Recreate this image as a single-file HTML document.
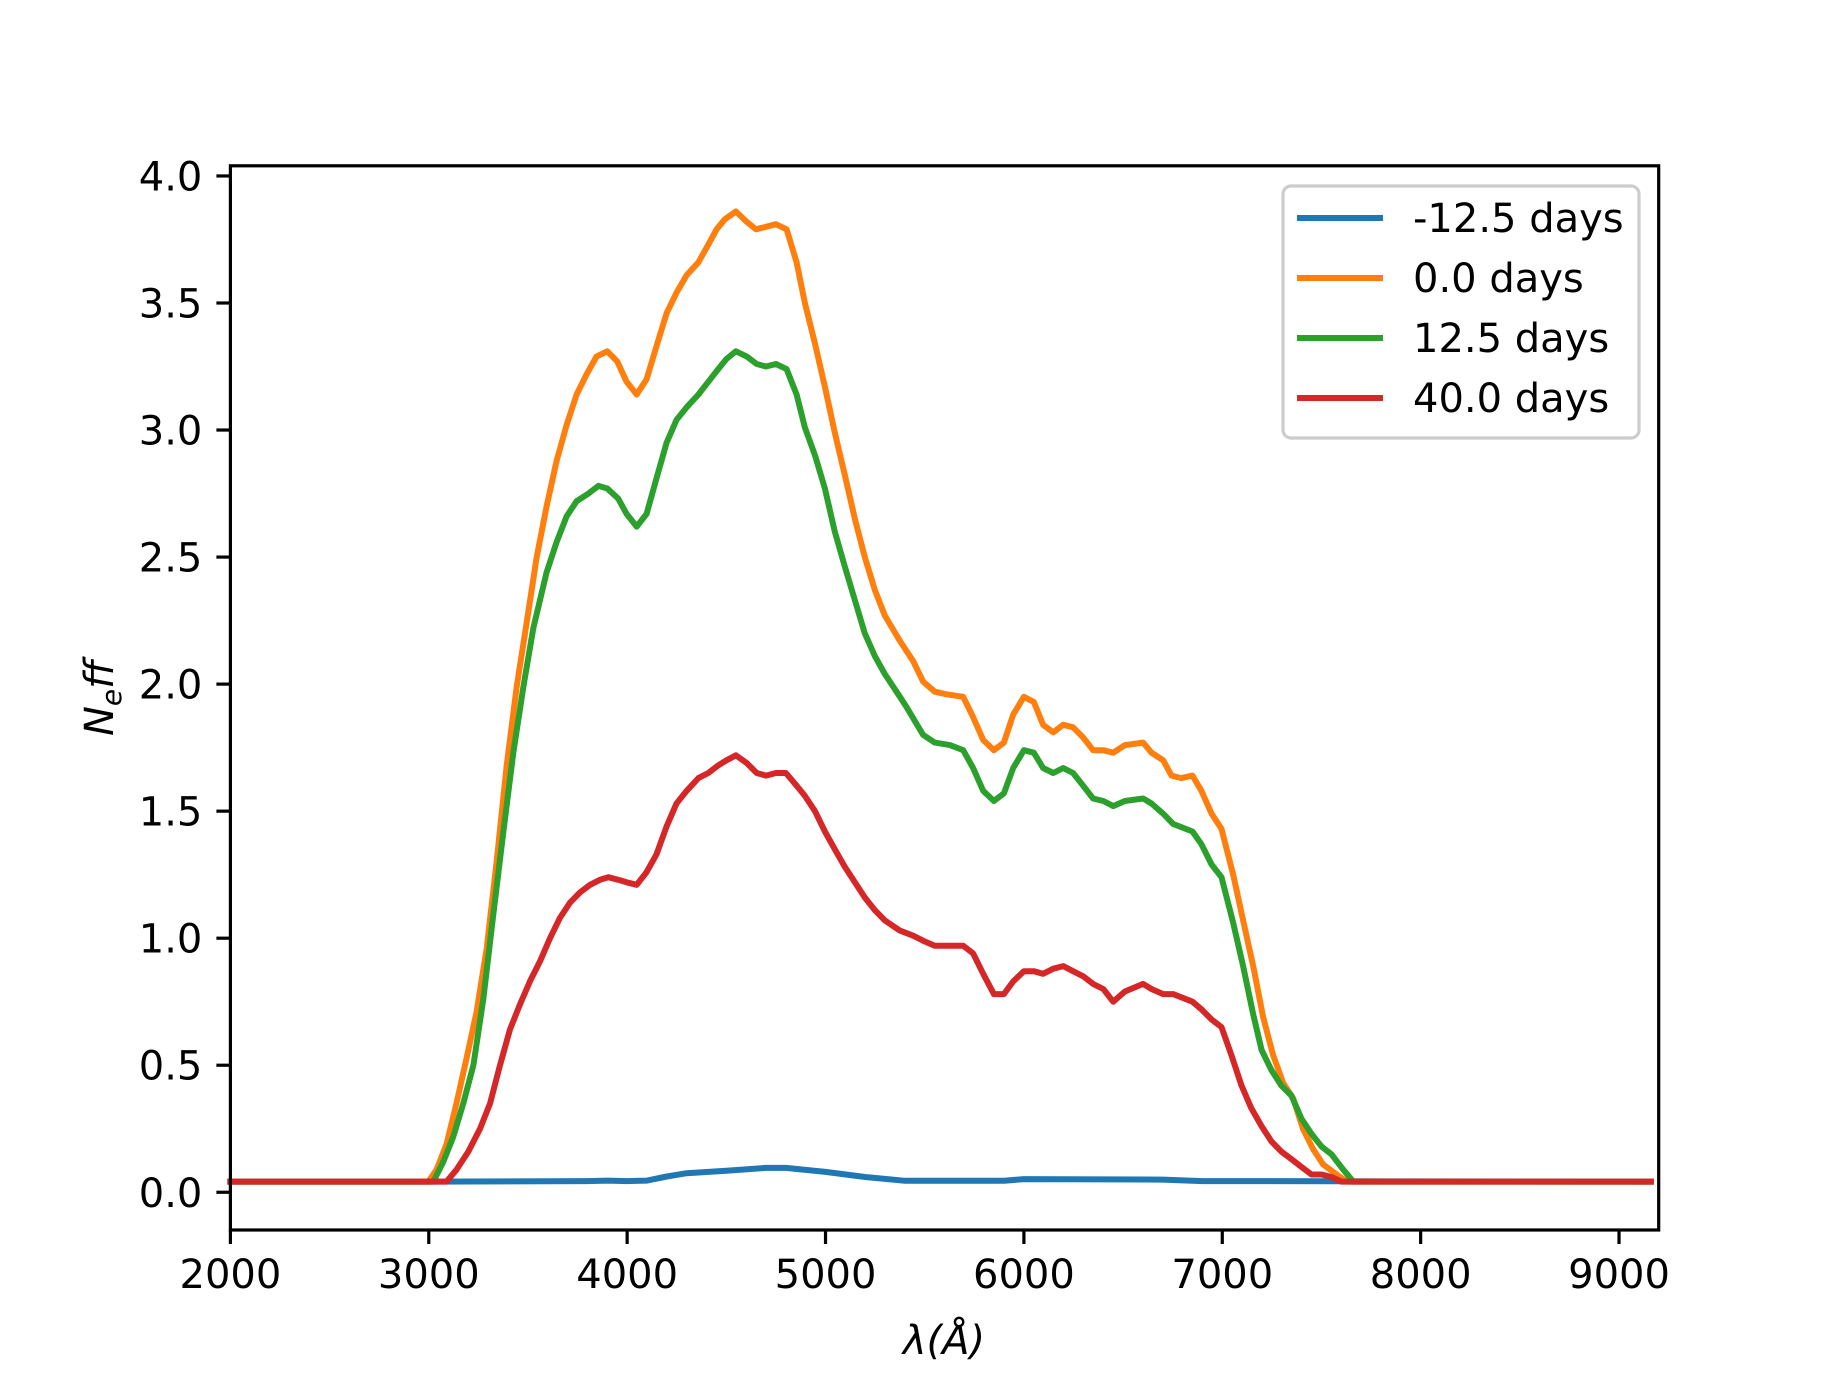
<!DOCTYPE html>
<html><head><meta charset="utf-8"><style>
html,body{margin:0;padding:0;background:#fff;}
svg{display:block;font-family:"DejaVu Sans","Liberation Sans",sans-serif;}
</style></head><body>
<svg id="chart" width="1843" height="1382" viewBox="0 0 1843 1382" xmlns="http://www.w3.org/2000/svg">
<rect x="0" y="0" width="1843" height="1382" fill="#fff"/>
<g id="series"></g>
<g id="axes"></g>
<g id="legend"></g>
</svg>
<script>
const xTicks = [2000,3000,4000,5000,6000,7000,8000,9000];
const yTicks = [0.0,0.5,1.0,1.5,2.0,2.5,3.0,3.5,4.0];
const yTickLabels = ["0.0","0.5","1.0","1.5","2.0","2.5","3.0","3.5","4.0"];
const seriesNames = ["-12.5 days","0.0 days","12.5 days","40.0 days"];
const seriesColors = ["#1f77b4","#ff7f0e","#2ca02c","#d62728"];

const blueX = [2000,3000,3800,3900,4000,4100,4200,4300,4500,4700,4800,5000,5200,5400,5900,6000,6700,6900,9160];
const blueY = [0.042,0.042,0.044,0.046,0.044,0.046,0.062,0.075,0.085,0.096,0.096,0.08,0.06,0.045,0.045,0.052,0.05,0.044,0.042];

const orangeX = [2000,2998,3040,3090,3140,3191,3241,3292,3342,3393,3443,3493,3544,3594,3645,3695,3745,3796,3846,3900,3950,3997,4048,4098,4148,4199,4249,4300,4359,4409,4451,4493,4548,4602,4649,4700,4750,4804,4854,4896,4947,4997,5047,5098,5148,5198,5249,5299,5375,5442,5492,5551,5610,5694,5744,5795,5849,5899,5946,6000,6050,6097,6148,6198,6248,6299,6349,6400,6450,6509,6601,6643,6702,6744,6794,6850,6895,6946,6996,7055,7105,7156,7206,7256,7307,7357,7407,7458,7508,7559,7626,7693,9160];
const orangeY = [0.042,0.042,0.09,0.19,0.35,0.53,0.71,0.96,1.30,1.68,1.99,2.24,2.50,2.70,2.88,3.02,3.14,3.22,3.29,3.31,3.27,3.19,3.14,3.20,3.33,3.46,3.54,3.61,3.66,3.73,3.79,3.83,3.86,3.82,3.79,3.80,3.81,3.79,3.66,3.50,3.34,3.17,2.99,2.82,2.65,2.50,2.37,2.27,2.17,2.09,2.01,1.97,1.96,1.95,1.87,1.78,1.74,1.77,1.88,1.95,1.93,1.84,1.81,1.84,1.83,1.79,1.74,1.74,1.73,1.76,1.77,1.73,1.70,1.64,1.63,1.64,1.58,1.49,1.43,1.25,1.07,0.89,0.69,0.54,0.43,0.37,0.25,0.17,0.11,0.08,0.042,0.042,0.042];

const greenX = [2000,3023,3073,3124,3174,3225,3275,3325,3376,3426,3477,3527,3594,3645,3695,3745,3804,3855,3900,3955,3997,4048,4098,4148,4199,4249,4300,4359,4409,4459,4501,4548,4602,4653,4700,4750,4804,4854,4896,4947,4997,5047,5098,5148,5198,5249,5299,5375,5408,5492,5551,5627,5694,5744,5795,5849,5899,5946,6000,6050,6097,6148,6198,6248,6299,6349,6400,6450,6509,6601,6643,6702,6752,6850,6895,6946,6996,7055,7105,7156,7198,7248,7298,7349,7399,7450,7500,7550,7609,7660,9160];
const greenY = [0.042,0.042,0.12,0.22,0.35,0.50,0.76,1.09,1.42,1.73,1.99,2.22,2.44,2.56,2.66,2.72,2.75,2.78,2.77,2.73,2.67,2.62,2.67,2.81,2.95,3.04,3.09,3.14,3.19,3.24,3.28,3.31,3.29,3.26,3.25,3.26,3.24,3.14,3.01,2.90,2.77,2.60,2.46,2.33,2.20,2.11,2.04,1.95,1.91,1.80,1.77,1.76,1.74,1.67,1.58,1.54,1.57,1.67,1.74,1.73,1.67,1.65,1.67,1.65,1.60,1.55,1.54,1.52,1.54,1.55,1.53,1.49,1.45,1.42,1.37,1.29,1.24,1.06,0.89,0.70,0.56,0.48,0.42,0.38,0.29,0.23,0.18,0.15,0.09,0.042,0.042];

const redX = [2000,3090,3141,3199,3258,3309,3359,3409,3460,3510,3561,3611,3661,3712,3762,3813,3863,3905,3955,3997,4048,4098,4148,4199,4249,4300,4359,4409,4459,4501,4548,4602,4653,4700,4750,4800,4854,4896,4947,4997,5047,5098,5148,5198,5249,5299,5375,5442,5492,5551,5610,5694,5744,5795,5849,5899,5946,6000,6050,6097,6148,6198,6248,6299,6349,6400,6450,6509,6601,6643,6702,6752,6850,6895,6946,6996,7046,7097,7147,7198,7248,7298,7349,7399,7450,7500,7550,7601,9160];
const redY = [0.042,0.042,0.09,0.16,0.25,0.35,0.50,0.64,0.74,0.83,0.91,1.00,1.08,1.14,1.18,1.21,1.23,1.24,1.23,1.22,1.21,1.26,1.33,1.44,1.53,1.58,1.63,1.65,1.68,1.70,1.72,1.69,1.65,1.64,1.65,1.65,1.60,1.56,1.50,1.42,1.35,1.28,1.22,1.16,1.11,1.07,1.03,1.01,0.99,0.97,0.97,0.97,0.94,0.86,0.78,0.78,0.83,0.87,0.87,0.86,0.88,0.89,0.87,0.85,0.82,0.80,0.75,0.79,0.82,0.80,0.78,0.78,0.75,0.72,0.68,0.65,0.54,0.42,0.33,0.26,0.20,0.16,0.13,0.10,0.07,0.07,0.06,0.042,0.042];

const NS = "http://www.w3.org/2000/svg";
const AX = {left:230.4, right:1658.7, top:165.8, bottom:1230};
const xMin = 2000, xMax = 9200, yMin = -0.1485, yMax = 4.04;
function sx(v){ return AX.left + (v - xMin) / (xMax - xMin) * (AX.right - AX.left); }
function sy(v){ return AX.bottom - (v - yMin) / (yMax - yMin) * (AX.bottom - AX.top); }
function mk(tag, attrs, parent){ const e = document.createElementNS(NS, tag); for (const k in attrs) e.setAttribute(k, attrs[k]); parent.appendChild(e); return e; }

const seriesG = document.getElementById('series');
const allX = [blueX, orangeX, greenX, redX];
const allY = [blueY, orangeY, greenY, redY];
const seriesKeys = ["series-minus-12-5-days","series-0-0-days","series-12-5-days","series-40-0-days"];
for (let i = 0; i < 4; i++) {
  let d = "";
  for (let j = 0; j < allX[i].length; j++) d += (j ? "L" : "M") + sx(allX[i][j]).toFixed(1) + "," + sy(allY[i][j]).toFixed(1);
  const p = mk('path', {d: d, fill: 'none', stroke: seriesColors[i], 'stroke-width': 6, 'stroke-linejoin': 'round', 'stroke-linecap': 'square'}, seriesG);
  
  
}

const axesG = document.getElementById('axes');
const frame = mk('rect', {x: AX.left, y: AX.top, width: AX.right - AX.left, height: AX.bottom - AX.top, fill: 'none', stroke: '#000', 'stroke-width': 3.2}, axesG);



for (let i = 0; i < xTicks.length; i++) {
  const x = sx(xTicks[i]);
  const t = mk('line', {x1: x, x2: x, y1: AX.bottom, y2: AX.bottom + 14, stroke: '#000', 'stroke-width': 3.2}, axesG);
  
  
  const l = mk('text', {x: x, y: AX.bottom + 58, 'text-anchor': 'middle', 'font-size': 40, fill: '#000'}, axesG);
  l.textContent = String(xTicks[i]);
  
  
}
for (let i = 0; i < yTicks.length; i++) {
  const y = sy(yTicks[i]);
  const t = mk('line', {x1: AX.left - 14, x2: AX.left, y1: y, y2: y, stroke: '#000', 'stroke-width': 3.2}, axesG);
  
  
  const l = mk('text', {x: AX.left - 28, y: y + 14.5, 'text-anchor': 'end', 'font-size': 40, fill: '#000'}, axesG);
  l.textContent = yTickLabels[i];
  
  
}

const xl = mk('text', {x: 944, y: 1354, 'text-anchor': 'middle', 'font-size': 40, 'font-style': 'italic', fill: '#000'}, axesG);
xl.textContent = "λ(Å)";



const yl = mk('text', {x: 0, y: 0, 'text-anchor': 'middle', 'font-size': 40, 'font-style': 'italic', fill: '#000', transform: 'translate(113,698) rotate(-90)'}, axesG);
yl.innerHTML = 'N<tspan font-size="28" dy="8">e</tspan><tspan dy="-8">ff</tspan>';



const legG = document.getElementById('legend');
const box = mk('rect', {x: 1283, y: 186, width: 356, height: 252, rx: 8, ry: 8, fill: '#fff', 'fill-opacity': 0.8, stroke: '#cccccc', 'stroke-width': 3.2}, legG);


for (let i = 0; i < seriesNames.length; i++) {
  const y = 218 + i * 60;
  const ln = mk('line', {x1: 1297, x2: 1383, y1: y, y2: y, stroke: seriesColors[i], 'stroke-width': 6}, legG);
  
  
  const tx = mk('text', {x: 1413, y: y + 14, 'font-size': 40, fill: '#000'}, legG);
  tx.textContent = seriesNames[i];
  
  
}
</script>
</body></html>
